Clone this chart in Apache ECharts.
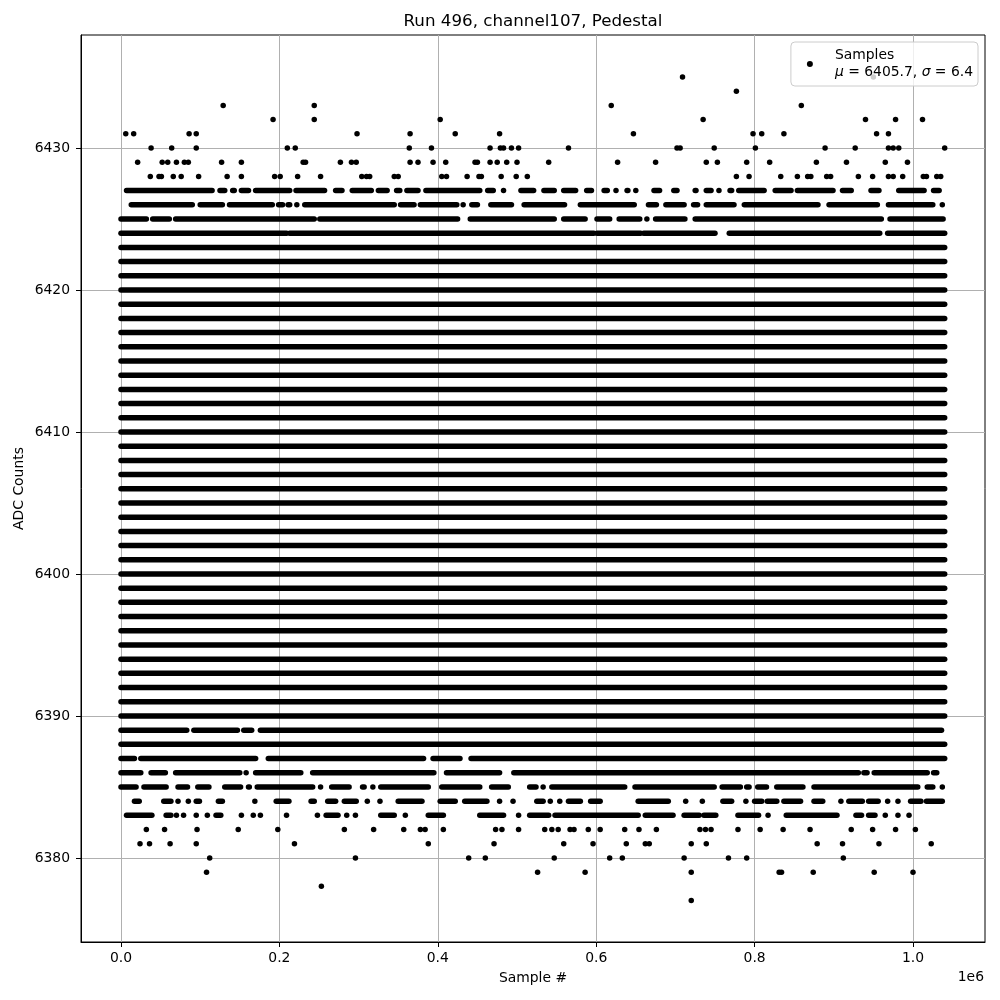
<!DOCTYPE html>
<html>
<head>
<meta charset="utf-8">
<script src="https://cdn.jsdelivr.net/npm/echarts@6/dist/echarts.min.js"></script>
<style>
  html, body { margin: 0; padding: 0; background: #fff; }
  #chart { width: 1000px; height: 1000px; }
</style>
</head>
<body>
<div id="chart"></div>
<script>
// ---------------- DATA (x values in thousands of samples) ----------------
const titleText = 'Run 496, channel107, Pedestal';
const legendName = 'Samples';
const legendMu = '6405.7';
const legendSigma = '6.4';

const xTickValues = [0, 200000, 400000, 600000, 800000, 1000000];
const yTickValues = [6380, 6390, 6400, 6410, 6420, 6430];

// ADC levels that are filled continuously over the whole run
const fullRowLevels = [6388, 6390, 6391, 6392, 6393, 6394, 6395, 6396, 6397, 6398, 6399,
  6400, 6401, 6402, 6403, 6404, 6405, 6406, 6407, 6408, 6409, 6410, 6411, 6412, 6413,
  6414, 6415, 6416, 6417, 6418, 6419, 6420, 6421, 6422, 6423];
const fullRowSpanK = [0, 1040];

// ADC levels that are mostly filled: runs of consecutive samples [startK, endK]
const runs6427 = [[7,115],[125,131],[141,143],[152,161],[170,213],[221,257],[271,279],[292,316],[325,336],[348,352],[361,375],[385,453],[463,470],[483,483],[505,521],[534,547],[559,574],[588,594],[610,614],[625,625],[639,640],[650,650],[673,680],[698,702],[725,726],[739,745],[755,755],[769,771],[780,812],[826,846],[854,899],[911,922],[947,957],[982,1014],[1026,1033]];
const runs6426 = [[13,90],[100,128],[137,191],[199,204],[211,213],[222,222],[232,345],[353,370],[378,424],[432,432],[443,450],[467,493],[509,560],[580,648],[666,676],[688,711],[723,728],[739,774],[787,880],[894,955],[969,1025],[1037,1037]];
const runs6425 = [[0,32],[40,61],[69,244],[251,425],[441,547],[559,586],[601,617],[629,655],[664,664],[675,712],[725,960],[971,1038]];
const runs6424 = [[0,209],[213,597],[601,656],[660,750],[768,958],[968,1040]];
const runs6389 = [[0,83],[92,147],[155,165],[176,1036]];
const runs6387 = [[0,17],[25,170],[186,382],[394,428],[442,1040]];
const runs6386 = [[0,25],[38,56],[69,150],[158,158],[170,227],[242,395],[411,478],[496,931],[938,942],[951,1018],[1026,1030]];
const runs6385 = [[0,19],[29,57],[72,84],[97,111],[131,151],[161,162],[172,242],[252,252],[266,288],[305,307],[318,318],[328,388],[405,453],[468,489],[516,524],[533,533],[544,636],[649,749],[759,782],[790,793],[804,815],[828,861],[875,1006],[1018,1025],[1037,1037]];
const runs6384 = [[17,23],[54,63],[72,72],[85,85],[95,99],[123,128],[169,169],[196,212],[240,244],[261,271],[282,297],[311,311],[327,327],[350,380],[403,422],[434,462],[478,478],[495,495],[525,533],[542,542],[554,554],[565,580],[593,605],[653,691],[713,713],[734,734],[760,771],[789,789],[800,809],[816,828],[837,858],[875,886],[909,909],[919,936],[944,956],[968,968],[981,981],[997,1010],[1017,1037]];
const runs6383 = [[7,39],[57,63],[70,70],[79,79],[95,95],[109,109],[120,126],[152,152],[167,167],[176,176],[209,209],[248,248],[259,274],[285,285],[296,296],[328,345],[359,359],[388,407],[453,483],[502,502],[516,540],[548,653],[662,697],[711,730],[736,751],[779,805],[817,817],[840,904],[928,935],[944,952],[965,965],[981,981],[995,995]];
const runRowLevels = [6427, 6426, 6425, 6424, 6389, 6387, 6386, 6385, 6384, 6383];
const runRows = [runs6427, runs6426, runs6425, runs6424, runs6389, runs6387, runs6386, runs6385, runs6384, runs6383];

// Rare ADC levels: individual samples (thousands of samples)
const pts6435 = [709, 950];
const pts6434 = [777];
const pts6433 = [129, 244, 619, 859];
const pts6432 = [192, 244, 403, 735, 940, 978, 1012];
const pts6431 = [6, 16, 86, 95, 298, 365, 422, 478, 647, 798, 809, 837, 954, 969];
const pts6430 = [38, 64, 95, 210, 220, 364, 392, 466, 479, 483, 493, 502, 565, 702, 706, 749, 801, 889, 927, 969, 975, 982, 1040];
const pts6429 = [21, 52, 59, 70, 80, 85, 127, 152, 230, 233, 277, 291, 297, 365, 375, 394, 410, 447, 450, 466, 475, 487, 500, 540, 627, 675, 739, 753, 790, 819, 878, 916, 965, 993];
const pts6428 = [37, 48, 51, 66, 76, 98, 134, 152, 194, 201, 223, 252, 304, 310, 314, 345, 350, 405, 411, 437, 452, 455, 480, 499, 513, 777, 793, 833, 854, 867, 871, 891, 896, 931, 949, 969, 975, 987, 1013, 1017, 1030, 1035];
const pts6382 = [32, 55, 96, 148, 198, 282, 319, 357, 378, 384, 407, 473, 481, 502, 535, 544, 552, 567, 572, 590, 605, 636, 654, 676, 731, 738, 745, 779, 807, 836, 870, 922, 949, 978, 1003];
const pts6381 = [24, 36, 62, 95, 219, 388, 471, 559, 596, 638, 662, 667, 720, 739, 879, 911, 957, 1023];
const pts6380 = [112, 296, 439, 460, 547, 617, 633, 711, 767, 790, 912];
const pts6379 = [108, 526, 586, 720, 831, 834, 874, 951, 1000];
const pts6378 = [253];
const pts6377 = [720];
const pointRowLevels = [6435, 6434, 6433, 6432, 6431, 6430, 6429, 6428, 6382, 6381, 6380, 6379, 6378, 6377];
const pointRows = [pts6435, pts6434, pts6433, pts6432, pts6431, pts6430, pts6429, pts6428, pts6382, pts6381, pts6380, pts6379, pts6378, pts6377];

// ---------------- BUILD ----------------
const K = 1000;
const segData = [];
fullRowLevels.forEach(y => segData.push([fullRowSpanK[0] * K, fullRowSpanK[1] * K, y]));
runRowLevels.forEach((y, i) => runRows[i].forEach(r => segData.push([r[0] * K, r[1] * K, y])));
const pointData = [];
pointRowLevels.forEach((y, i) => pointRows[i].forEach(x => pointData.push([x * K, y])));

const DOT = 5.5;
const FONT = 'DejaVu Sans';
const FS = 13.9;

const chart = echarts.init(document.getElementById('chart'), null, { renderer: 'canvas' });
chart.setOption({
  animation: false,
  backgroundColor: '#ffffff',
  textStyle: { fontFamily: FONT },
  grid: { left: 81, right: 15, top: 35, bottom: 58, show: true, borderColor: '#000', borderWidth: 1, backgroundColor: 'transparent' },
  xAxis: {
    type: 'value',
    min: -50505, max: 1090909,
    name: 'Sample #', nameLocation: 'middle', nameGap: 29,
    nameTextStyle: { fontFamily: FONT, fontSize: FS, color: '#000' },
    axisLine: { show: true, onZero: false, lineStyle: { color: '#000', width: 1 } },
    axisTick: { show: true, length: 5, inside: false, customValues: xTickValues, lineStyle: { color: '#000', width: 1 } },
    axisLabel: { customValues: xTickValues, margin: 9, fontFamily: FONT, fontSize: FS, color: '#000',
      formatter: v => (v / 1e6).toFixed(1) },
    splitLine: { show: true, lineStyle: { color: '#b0b0b0', width: 1 } }
  },
  yAxis: {
    type: 'value',
    min: 6374.08, max: 6437.96,
    name: 'ADC Counts', nameLocation: 'middle', nameGap: 55, nameRotate: 90, nameMoveOverlap: false,
    nameTextStyle: { fontFamily: FONT, fontSize: FS, color: '#000' },
    axisLine: { show: true, onZero: false, lineStyle: { color: '#000', width: 1 } },
    axisTick: { show: true, length: 5, inside: false, customValues: yTickValues, lineStyle: { color: '#000', width: 1 } },
    axisLabel: { customValues: yTickValues, margin: 11, fontFamily: FONT, fontSize: FS, color: '#000',
      formatter: v => String(Math.round(v)) },
    splitLine: { show: true, lineStyle: { color: '#b0b0b0', width: 1 } }
  },
  legend: {
    show: true,
    z: 10,
    data: [{ name: legendName, icon: 'circle' }],
    top: 42, right: 22,
    orient: 'vertical',
    padding: [5, 5, 5, 16],
    itemWidth: 40, itemHeight: 6,
    backgroundColor: 'rgba(255,255,255,0.8)',
    borderColor: '#cccccc', borderWidth: 1, borderRadius: 4,
    selectedMode: false,
    itemStyle: { color: '#000' },
    textStyle: { fontFamily: FONT, fontSize: FS, color: '#000', lineHeight: 17,
      rich: { i: { fontStyle: 'italic', fontFamily: FONT, fontSize: FS, color: '#000', lineHeight: 17 },
              n: { fontFamily: FONT, fontSize: FS, color: '#000', lineHeight: 17 } } },
    formatter: name => '{n|' + name + '}\n{i|μ}{n| = ' + legendMu + ', }{i|σ}{n| = ' + legendSigma + '}'
  },
  graphic: [
    { type: 'text', x: 533, y: 22, style: { text: titleText, font: '16.7px "DejaVu Sans"', fill: '#000', textAlign: 'center', textVerticalAlign: 'middle' }, silent: true },
    { type: 'text', x: 984, y: 977, style: { text: '1e6', font: FS + 'px "DejaVu Sans"', fill: '#000', textAlign: 'right', textVerticalAlign: 'middle' }, silent: true }
  ],
  series: [
    {
      name: legendName,
      type: 'scatter',
      symbol: 'circle',
      symbolSize: DOT,
      itemStyle: { color: '#000', opacity: 1 },
      data: pointData,
      z: 2
    },
    {
      name: legendName,
      type: 'custom',
      coordinateSystem: 'cartesian2d',
      encode: { x: [0, 1], y: 2 },
      itemStyle: { color: '#000' },
      data: segData,
      z: 2,
      renderItem: function (params, api) {
        const a = api.coord([api.value(0), api.value(2)]);
        const b = api.coord([api.value(1), api.value(2)]);
        if (Math.abs(b[0] - a[0]) < 0.5) {
          return { type: 'circle', shape: { cx: a[0], cy: a[1], r: DOT / 2 }, style: { fill: '#000' } };
        }
        return { type: 'line', shape: { x1: a[0], y1: a[1], x2: b[0], y2: b[1] },
          style: { stroke: '#000', lineWidth: DOT, lineCap: 'round', fill: null } };
      }
    }
  ]
});
</script>
</body>
</html>
